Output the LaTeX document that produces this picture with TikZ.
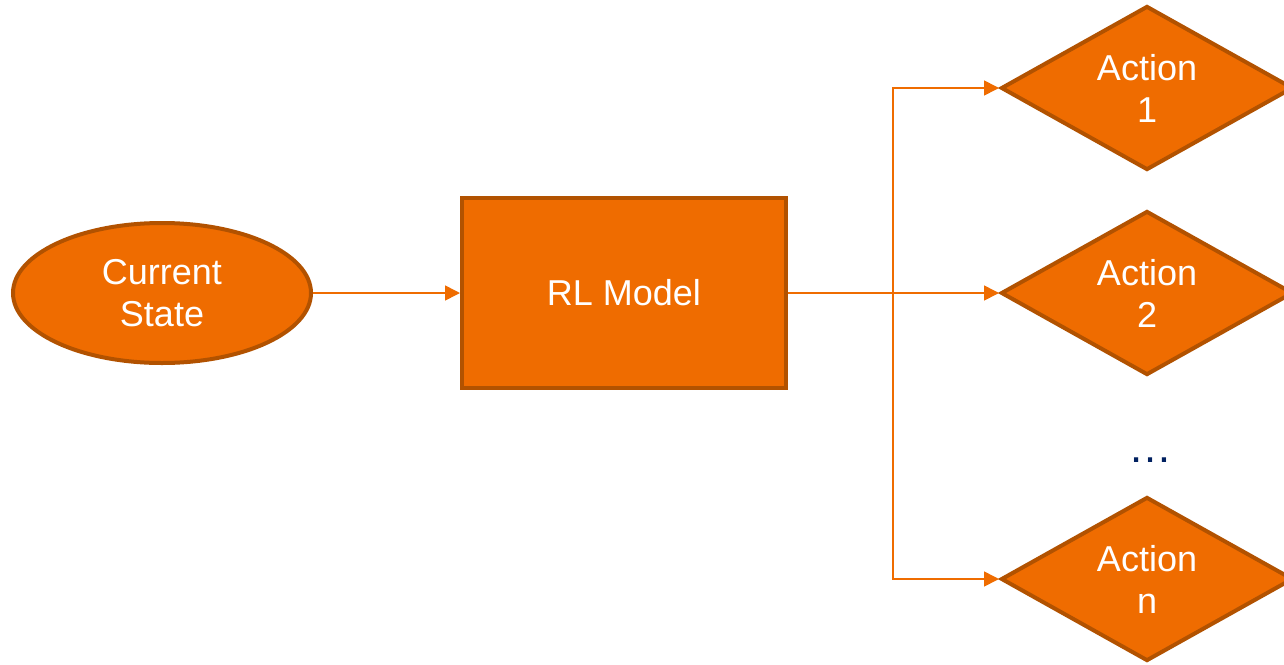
\documentclass[tikz,border=0pt]{standalone}
\usepackage{fontspec}
\setmainfont{Liberation Sans}
\usetikzlibrary{shapes.geometric,arrows.meta}
\definecolor{ofill}{RGB}{239,108,0}
\definecolor{oborder}{RGB}{178,82,0}
\definecolor{navy}{RGB}{0,32,96}
\tikzset{
  x=1pt, y=-1pt,
  txt/.style={text=white, font=\fontsize{36}{42}\selectfont, align=center},
  blk/.style={fill=ofill, draw=oborder, line width=4pt, inner sep=0pt, txt},
  elli/.style={blk, ellipse, minimum width=298pt, minimum height=140pt},
  rbox/.style={blk, rectangle, minimum width=324pt, minimum height=190pt},
  dia/.style={blk, diamond, aspect=1.78, minimum width=292pt, minimum height=164pt},
  conn/.style={draw=ofill, line width=1.6pt, -{Triangle[length=15pt,width=15pt]}}
}
\begin{document}
\begin{tikzpicture}
\clip (0,0) rectangle (1284,664);
\fill[white] (0,0) rectangle (1284,664);
\node[elli] (cs) at (162,293) {Current\\State};
\node[rbox] (rl) at (624,293) {\raisebox{-2pt}{RL Model}};
\node[dia] (a1) at (1147,88) {Action\\1};
\node[dia] (a2) at (1147,293) {Action\\2};
\node[dia] (an) at (1147,579) {Action\\n};
\node[text=navy, font=\fontsize{44}{50}\selectfont, anchor=base] (dots) at (1150,462) {…};
\coordinate (br) at (893,293);
\draw[conn] (cs.east) -- (rl.west);
\draw[conn] (rl.east) -- (a2.west);
\draw[conn] (br) |- (a1.west);
\draw[conn] (br) |- (an.west);
\end{tikzpicture}
\end{document}
